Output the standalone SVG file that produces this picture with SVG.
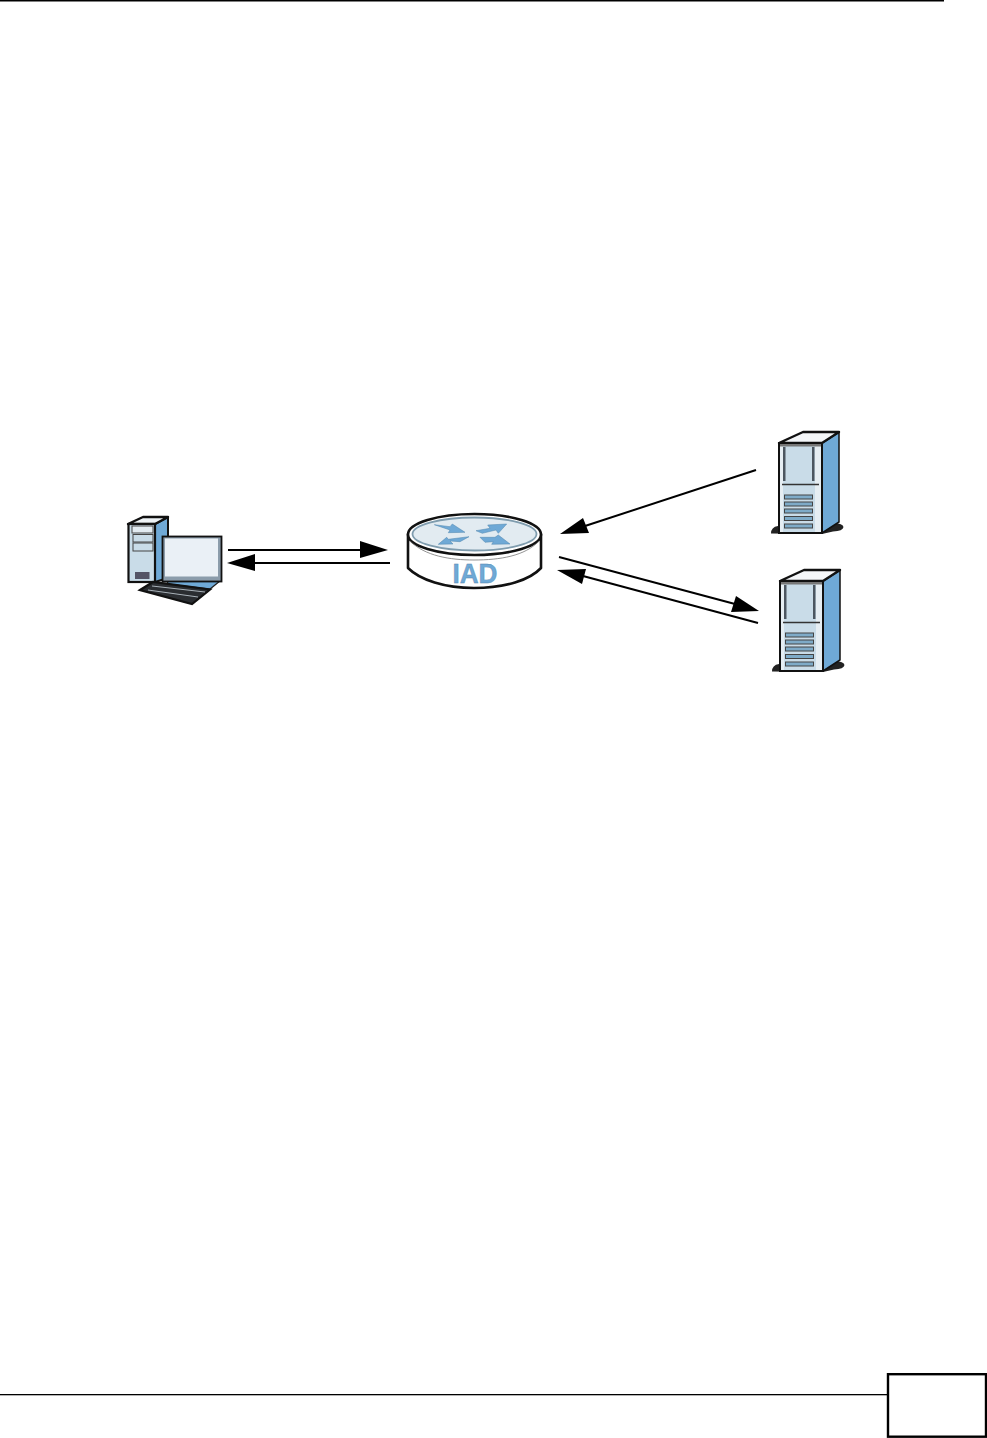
<svg xmlns="http://www.w3.org/2000/svg" width="987" height="1438" viewBox="0 0 987 1438">
<defs>
<style>
.k{stroke:#111;stroke-linejoin:round}
.conn{stroke:#000;stroke-width:2;fill:none}
.head{fill:#000;stroke:none}
.ra{fill:#6fa9d6;stroke:#4f85ad;stroke-width:.5}
.iad{font-family:"Liberation Sans",Arial,sans-serif;font-weight:700;font-size:28px;fill:#6fa9d6;stroke:#4f85ad;stroke-width:.4}
</style>
<g id="serverShape">
<path d="M771 533.500Q771 527 778 526H824L831 523Q843 523 843.500 527Q843 531 833 531.500L822 534Z" fill="#222"/>
<path class="k" d="M822 443L839 432V522L822 533Z" fill="#6fa9d6" stroke-width="1.500"/>
<path class="k" d="M779 443L803 432H839L822 443Z" fill="#f4f6f8" stroke-width="2.400"/>
<rect x="779" y="443" width="43" height="90" fill="#e6eef3" stroke="#111" stroke-width="2"/>
<rect x="783" y="445" width="32" height="87" fill="#c9dce8"/>
<rect x="780" y="444" width="41" height="2.500" fill="#777"/>
<rect x="783" y="447" width="2.500" height="34" fill="#4c5660"/>
<rect x="812" y="447" width="2.500" height="34" fill="#4c5660"/>
<path d="M782 484.500H819" stroke="#333" stroke-width="1.500"/>
<g fill="#7eabc8" stroke="#444" stroke-width="1">
<rect x="784.500" y="495" width="28" height="4"/>
<rect x="784.500" y="502" width="28" height="4"/>
<rect x="784.500" y="509" width="28" height="4"/>
<rect x="784.500" y="516.500" width="28" height="4"/>
<rect x="784.500" y="524" width="28" height="4"/>
</g>
</g>
</defs>

<g id="page-frame">
<rect x="0" y="0" width="944" height="1.500" fill="#000"/>
<rect x="0" y="1394" width="888" height="1.300" fill="#000"/>
<rect x="888" y="1374.200" width="98" height="62.500" fill="#fff" stroke="#000" stroke-width="2.400"/>
</g>

<g id="computer">
<path class="k" d="M155 524L168 517V578L155 582Z" fill="#6fa9d6" stroke-width="2"/>
<path class="k" d="M128 524L143 517H168L155 524Z" fill="#eef3f6" stroke-width="2.400"/>
<rect x="128.500" y="524" width="26.500" height="58" fill="#c9dce8" stroke="#111" stroke-width="2.200"/>
<g fill="#c9dce8" stroke="#444" stroke-width="1">
<rect x="132" y="526" width="21" height="7" fill="#e2ebf1"/>
<rect x="133" y="534.500" width="20" height="7.500"/>
<rect x="133" y="543" width="20" height="8"/>
</g>
<rect x="135" y="572" width="14.500" height="7" fill="#556"/>
<path d="M166 577L220 581L210 589L168 584Z" fill="#6fa9d6" stroke="#222" stroke-width="1.200"/>
<rect x="162.500" y="536.500" width="59" height="45" fill="#8b9cab" stroke="#111" stroke-width="1.800"/>
<rect x="165" y="538.500" width="53" height="38" fill="#eaf0f6"/>
<path d="M140 590L153 582L210 589.500L192 604Z" fill="#2a2d31" stroke="#111" stroke-width="2.200"/>
<path d="M152 586L205 592M148 590L198 597" stroke="#a9b2b9" stroke-width="1"/>
</g>

<g id="iad">
<path class="k" d="M408 534V568C420 580 445 588 474 588C505 588 530 580 541 568V534Z" fill="#fff" stroke-width="2.600"/>
<ellipse class="k" cx="474.500" cy="534.500" rx="66.500" ry="20.500" fill="#fff" stroke-width="2.600"/>
<ellipse cx="474.500" cy="534" rx="62" ry="16.500" fill="#e2ebf1" stroke="#7f9cae" stroke-width="1.800"/>
<path d="M410 541C425 556 450 560 474 560C500 560 525 556 539 541" fill="none" stroke="#777" stroke-width=".8"/>
<path class="ra" d="M434.300 524.700L450 526.700L452.300 524L465 532.300L448.300 532.700L450 530Z"/>
<path class="ra" d="M476 530.700L490 528.300L487.700 525L506.700 524L498.300 533.300L496 530L482.300 533.300Z"/>
<path class="ra" d="M438.300 544.300L446.700 537.300L448.300 539.300L469 536.700L460 541.700L450 541L453 544Z"/>
<path class="ra" d="M480 537.300L495 537.300L498.300 535L510 544L491.700 544.300L493.300 541.700L485 542.300Z"/>
<text class="iad" x="475" y="583" text-anchor="middle" textLength="45" lengthAdjust="spacingAndGlyphs">IAD</text>
</g>

<g id="server-top"><use href="#serverShape"/></g>
<g id="server-bottom"><use href="#serverShape" transform="translate(1 138)"/></g>

<g id="connectors">
<path class="conn" d="M228 550H362"/>
<path class="head" d="M360 541L388 550L360 558Z"/>
<path class="conn" d="M390 563H253"/>
<path class="head" d="M255 554L227 563L255 571Z"/>
<path class="conn" d="M756 470L585 526"/>
<path class="head" d="M583 518L560 534L589 533Z"/>
<path class="conn" d="M559 557L735 604"/>
<path class="head" d="M736 596L759 611L731 612Z"/>
<path class="conn" d="M758 623L583 576"/>
<path class="head" d="M586 569L557 570L582 584Z"/>
</g>
</svg>
